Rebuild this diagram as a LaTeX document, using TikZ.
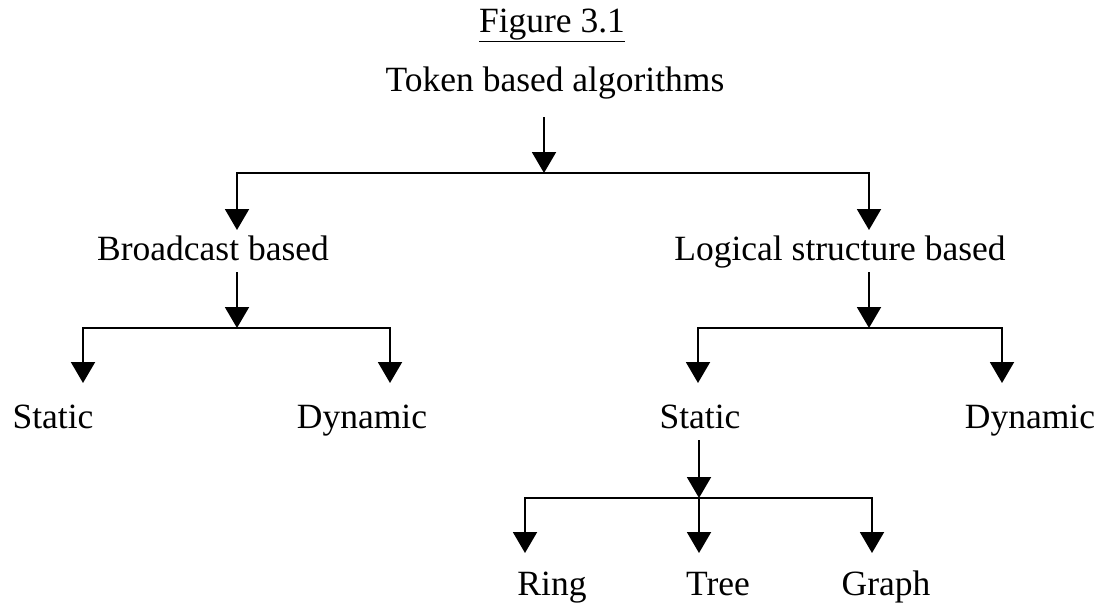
\documentclass[tikz,border=0pt]{standalone}
\usepackage{fontspec}
\setmainfont{Liberation Serif}
\usetikzlibrary{arrows.meta}
\begin{document}
\begin{tikzpicture}[x=1pt,y=-1pt,
  lbl/.style={anchor=base, inner sep=0pt, font=\fontsize{35.5}{40}\selectfont},
  conn/.style={line width=2pt, line join=miter},
  arr/.style={conn, -{Triangle[length=21pt,width=24pt]}},
]
\useasboundingbox (0,0) rectangle (1103,603);

% labels
\node[lbl] (fig)   at (552,32)  {\underline{Figure 3.1}};
\node[lbl] (root)  at (555,91)  {Token based algorithms};
\node[lbl] (bc)    at (213,260) {Broadcast based};
\node[lbl] (ls)    at (840,260) {Logical structure based};
\node[lbl] (s1)    at (53,428)  {Static};
\node[lbl] (d1)    at (362,428) {Dynamic};
\node[lbl] (s2)    at (700,428) {Static};
\node[lbl] (d2)    at (1030,428) {Dynamic};
\node[lbl] (ring)  at (552,595) {Ring};
\node[lbl] (tree)  at (718,595) {Tree};
\node[lbl] (graph) at (886,595) {Graph};

% junctions and arrow ends
\coordinate (r0) at (544,117);
\coordinate (j0) at (544,173);
\coordinate (aBC) at (237,230);
\coordinate (aLS) at (869,230);

\coordinate (b0) at (237,272);
\coordinate (j1) at (237,328);
\coordinate (aS1) at (83,383);
\coordinate (aD1) at (390,383);

\coordinate (l0) at (869,272);
\coordinate (j2) at (869,328);
\coordinate (aS2) at (698,383);
\coordinate (aD2) at (1002,383);

\coordinate (t0) at (699,440);
\coordinate (j3) at (699,498);
\coordinate (aRing) at (525,553);
\coordinate (aTree) at (699,553);
\coordinate (aGraph) at (872,553);

% connectors
\draw[arr] (r0) -- (j0);
\draw[arr] (j0) -| (aBC);
\draw[arr] (j0) -| (aLS);

\draw[arr] (b0) -- (j1);
\draw[arr] (j1) -| (aS1);
\draw[arr] (j1) -| (aD1);

\draw[arr] (l0) -- (j2);
\draw[arr] (j2) -| (aS2);
\draw[arr] (j2) -| (aD2);

\draw[arr] (t0) -- (j3);
\draw[arr] (j3) -| (aRing);
\draw[arr] (j3) -- (aTree);
\draw[arr] (j3) -| (aGraph);
\end{tikzpicture}
\end{document}
